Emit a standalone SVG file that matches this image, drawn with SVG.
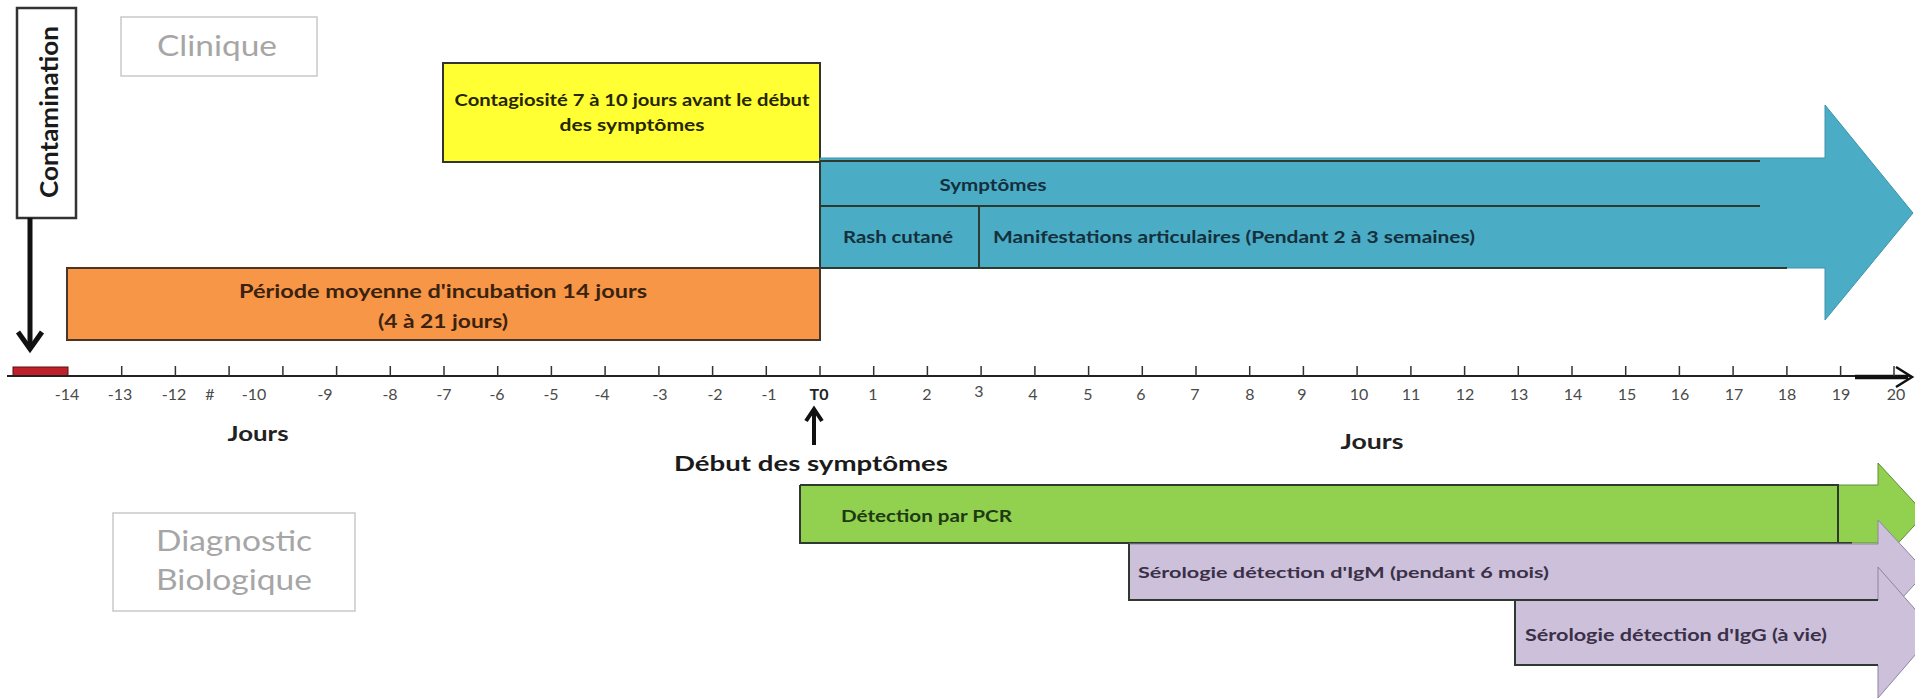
<svg xmlns="http://www.w3.org/2000/svg" width="1915" height="699" viewBox="0 0 1915 699">
<style>
  .bold { font-family: Lato, "Liberation Sans", sans-serif; font-weight: bold; }
  .reg { font-family: Lato, "Liberation Sans", sans-serif; }
  .tick { stroke: #333; stroke-width: 1.5; }
  .lbl { font-family: Lato, "Liberation Sans", sans-serif; font-size: 16px; fill: #4a4a4a; text-anchor: middle; }
  .border { fill: none; stroke: #2e3a30; stroke-width: 2; }
  .grey { fill: #a6a6a6; }
</style>
<rect width="1915" height="699" fill="#ffffff"/>

<g id="clinique">
  <rect x="121" y="17" width="196" height="59" fill="#fff" stroke="#c9c9c9" stroke-width="1.5"/>
  <text class="reg grey" x="217" y="56" font-size="28" text-anchor="middle" textLength="120" lengthAdjust="spacingAndGlyphs">Clinique</text>
</g>

<g id="diagnostic">
  <rect x="113" y="513" width="242" height="98" fill="#fff" stroke="#c9c9c9" stroke-width="1.5"/>
  <text class="reg grey" x="234" y="551" font-size="28" text-anchor="middle" textLength="156" lengthAdjust="spacingAndGlyphs">Diagnostic</text>
  <text class="reg grey" x="234" y="590" font-size="28" text-anchor="middle" textLength="156" lengthAdjust="spacingAndGlyphs">Biologique</text>
</g>

<g id="contamination">
  <rect x="17" y="8" width="59" height="210" fill="#fff" stroke="#333" stroke-width="2.5"/>
  <text class="bold" transform="translate(58,112) rotate(-90)" font-size="24" fill="#1a1a1a" text-anchor="middle" textLength="172" lengthAdjust="spacingAndGlyphs">Contamination</text>
</g>

<g id="contagiosite">
  <rect x="443" y="63" width="377" height="99" fill="#ffff33" stroke="#333" stroke-width="2"/>
  <text class="bold" x="632" y="106" font-size="17" fill="#262600" text-anchor="middle" textLength="355" lengthAdjust="spacingAndGlyphs">Contagiosité 7 à 10 jours avant le début</text>
  <text class="bold" x="632" y="131" font-size="17" fill="#262600" text-anchor="middle" textLength="145" lengthAdjust="spacingAndGlyphs">des symptômes</text>
</g>

<g id="symptomes">
  <polygon points="820,158 1825,158 1825,105 1913,213 1825,320 1825,268 820,268" fill="#4bacc6" stroke="#3d93aa" stroke-width="1"/>
  <path class="border" d="M820,161 H1760 M820,206 H1760 M820,268 H1787 M820,161 V268 M979,206 V268" stroke="#1d3440"/>
  <text class="bold" x="993" y="191" font-size="17" fill="#14303d" text-anchor="middle" textLength="107" lengthAdjust="spacingAndGlyphs">Symptômes</text>
  <text class="bold" x="843" y="243" font-size="17" fill="#14303d" textLength="110" lengthAdjust="spacingAndGlyphs">Rash cutané</text>
  <text class="bold" x="993" y="243" font-size="17" fill="#14303d" textLength="482" lengthAdjust="spacingAndGlyphs">Manifestations articulaires  (Pendant 2 à 3 semaines)</text>
</g>

<g id="incubation">
  <rect x="67" y="268" width="753" height="72" fill="#f79646" stroke="#4a3626" stroke-width="2"/>
  <text class="bold" x="443" y="298" font-size="18" fill="#3a2210" text-anchor="middle" textLength="408" lengthAdjust="spacingAndGlyphs">Période moyenne  d'incubation 14 jours</text>
  <text class="bold" x="443" y="328" font-size="18" fill="#3a2210" text-anchor="middle" textLength="130" lengthAdjust="spacingAndGlyphs">(4 à 21 jours)</text>
</g>

<g id="pcr">
  <polygon points="800,485 1878,485 1878,463 1925,514 1878,565 1878,543 800,543" fill="#92d050" stroke="#5f8c35" stroke-width="1"/>
  <path class="border" d="M800,485 H1838 V543 M800,485 V543 H1852" stroke="#27401a"/>
  <text class="bold" x="841" y="522" font-size="17" fill="#1d3a10" textLength="171" lengthAdjust="spacingAndGlyphs">Détection par PCR</text>
</g>

<g id="igm">
  <polygon points="1129,544 1878,544 1878,520 1926,572 1878,624 1878,600 1129,600" fill="#ccc0da" stroke="#8f84a0" stroke-width="1"/>
  <path class="border" d="M1129,544 V600 H1852" stroke="#333"/>
  <text class="bold" x="1138" y="578" font-size="16" fill="#3a3048" textLength="411" lengthAdjust="spacingAndGlyphs">Sérologie détection d'IgM (pendant 6 mois)</text>
</g>

<g id="igg">
  <polygon points="1515,600 1878,600 1878,567 1935,632 1878,698 1878,665 1515,665" fill="#ccc0da" stroke="#8f84a0" stroke-width="1"/>
  <path class="border" d="M1878,600 H1515 V665 H1878" stroke="#333"/>
  <text class="bold" x="1525" y="641" font-size="17" fill="#3a3048" textLength="302" lengthAdjust="spacingAndGlyphs">Sérologie détection d'IgG (à vie)</text>
</g>

<g id="connectors">
  <line x1="30" y1="218" x2="30" y2="348" stroke="#111" stroke-width="5"/>
  <polyline points="18,332 30,349 42,332" fill="none" stroke="#111" stroke-width="5" stroke-linejoin="miter"/>
  <line x1="814" y1="445" x2="814" y2="412" stroke="#111" stroke-width="4"/>
  <polyline points="806,421 814,409 822,421" fill="none" stroke="#111" stroke-width="4"/>
</g>

<g id="axis">
  <rect x="13" y="367" width="55" height="9" fill="#c0202a" stroke="#5a1010" stroke-width="1"/>
  <line x1="7" y1="376" x2="1910" y2="376" stroke="#222" stroke-width="2"/>
  <line x1="1855" y1="377" x2="1908" y2="377" stroke="#111" stroke-width="4.5"/>
  <polyline points="1896,367 1912,377 1896,387" fill="none" stroke="#111" stroke-width="2.5"/>
  <g class="tick">
    <line x1="121.7" y1="366" x2="121.7" y2="376"/><line x1="175.4" y1="366" x2="175.4" y2="376"/>
    <line x1="229.1" y1="366" x2="229.1" y2="376"/><line x1="282.9" y1="366" x2="282.9" y2="376"/>
    <line x1="336.6" y1="366" x2="336.6" y2="376"/><line x1="390.3" y1="366" x2="390.3" y2="376"/>
    <line x1="444" y1="366" x2="444" y2="376"/><line x1="497.7" y1="366" x2="497.7" y2="376"/>
    <line x1="551.4" y1="366" x2="551.4" y2="376"/><line x1="605.1" y1="366" x2="605.1" y2="376"/>
    <line x1="658.9" y1="366" x2="658.9" y2="376"/><line x1="712.6" y1="366" x2="712.6" y2="376"/>
    <line x1="766.3" y1="366" x2="766.3" y2="376"/><line x1="820" y1="366" x2="820" y2="376"/>
    <line x1="873.7" y1="366" x2="873.7" y2="376"/><line x1="927.4" y1="366" x2="927.4" y2="376"/>
    <line x1="981.1" y1="366" x2="981.1" y2="376"/><line x1="1034.9" y1="366" x2="1034.9" y2="376"/>
    <line x1="1088.6" y1="366" x2="1088.6" y2="376"/><line x1="1142.3" y1="366" x2="1142.3" y2="376"/>
    <line x1="1196" y1="366" x2="1196" y2="376"/><line x1="1249.7" y1="366" x2="1249.7" y2="376"/>
    <line x1="1303.4" y1="366" x2="1303.4" y2="376"/><line x1="1357.1" y1="366" x2="1357.1" y2="376"/>
    <line x1="1410.9" y1="366" x2="1410.9" y2="376"/><line x1="1464.6" y1="366" x2="1464.6" y2="376"/>
    <line x1="1518.3" y1="366" x2="1518.3" y2="376"/><line x1="1572" y1="366" x2="1572" y2="376"/>
    <line x1="1625.7" y1="366" x2="1625.7" y2="376"/><line x1="1679.4" y1="366" x2="1679.4" y2="376"/>
    <line x1="1733.1" y1="366" x2="1733.1" y2="376"/><line x1="1786.9" y1="366" x2="1786.9" y2="376"/>
    <line x1="1840.6" y1="366" x2="1840.6" y2="376"/><line x1="1894" y1="366" x2="1894" y2="376"/>
  </g>
  <g class="lbl">
    <text x="67" y="400">-14</text><text x="120" y="400">-13</text><text x="174" y="400">-12</text>
    <text x="210" y="400">#</text><text x="254" y="400">-10</text><text x="325" y="400">-9</text>
    <text x="390" y="400">-8</text><text x="444" y="400">-7</text><text x="497" y="400">-6</text>
    <text x="551" y="400">-5</text><text x="602" y="400">-4</text><text x="660" y="400">-3</text>
    <text x="715" y="400">-2</text><text x="769" y="400">-1</text>
    <text x="819" y="400" font-weight="bold" fill="#222">T0</text>
    <text x="873" y="400">1</text><text x="927" y="400">2</text><text x="979" y="397">3</text>
    <text x="1033" y="400">4</text><text x="1088" y="400">5</text><text x="1141" y="400">6</text>
    <text x="1195" y="400">7</text><text x="1250" y="400">8</text><text x="1302" y="400">9</text>
    <text x="1359" y="400">10</text><text x="1411" y="400">11</text><text x="1465" y="400">12</text>
    <text x="1519" y="400">13</text><text x="1573" y="400">14</text><text x="1627" y="400">15</text>
    <text x="1680" y="400">16</text><text x="1734" y="400">17</text><text x="1787" y="400">18</text>
    <text x="1841" y="400">19</text><text x="1896" y="400">20</text>
  </g>
  <text class="bold" x="258" y="441" font-size="20" fill="#222" text-anchor="middle" textLength="61" lengthAdjust="spacingAndGlyphs">Jours</text>
  <text class="bold" x="1372" y="449" font-size="20" fill="#222" text-anchor="middle" textLength="63" lengthAdjust="spacingAndGlyphs">Jours</text>
  <text class="bold" x="811" y="471" font-size="21" fill="#1a1a1a" text-anchor="middle" textLength="274" lengthAdjust="spacingAndGlyphs">Début des symptômes</text>
</g>
</svg>
